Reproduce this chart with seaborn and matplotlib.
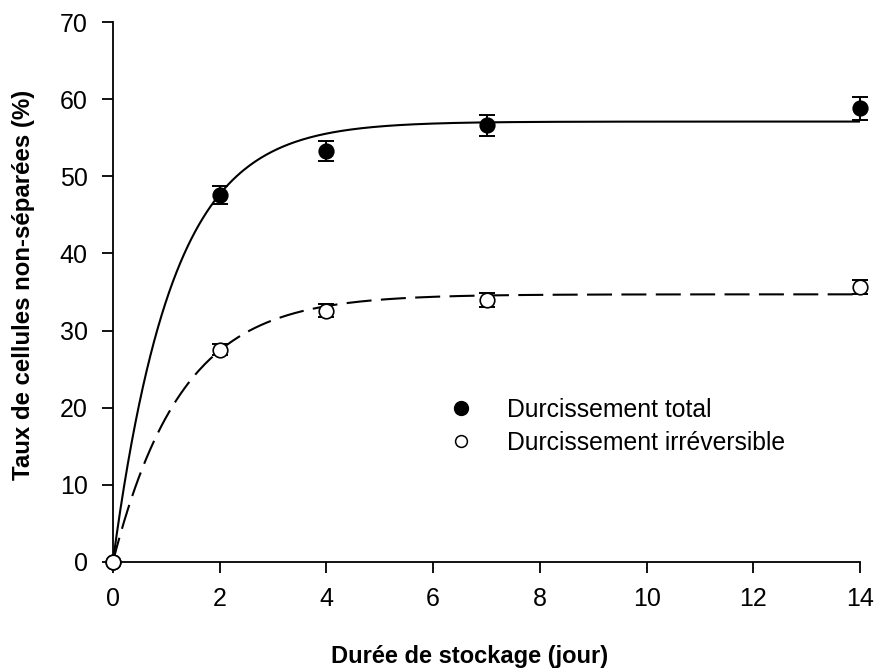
import numpy as np
import pandas as pd
import matplotlib
matplotlib.use("Agg")
import matplotlib.pyplot as plt
import seaborn as sns
from matplotlib.lines import Line2D

sns.set_theme(style="ticks")
plt.rcParams['font.family'] = ['Liberation Sans', 'DejaVu Sans']
plt.rcParams['text.color'] = 'black'
plt.rcParams['axes.labelcolor'] = 'black'

days = [0, 2, 4, 7, 14]
total = [0, 47.6, 53.3, 56.6, 58.8]
total_err = [0, 1.2, 1.3, 1.4, 1.5]
irrev = [0, 27.5, 32.6, 34.0, 35.6]
irrev_err = [0, 0.7, 0.8, 0.9, 0.9]

# fitted model parameters: y = A * (1 - exp(-k t))
fit_total_A, fit_total_k = 57.1, 0.90
fit_irrev_A, fit_irrev_k = 34.7, 0.78

labels = ["Durcissement total", "Durcissement irréversible"]

fig = plt.figure(figsize=(8.75, 6.69), dpi=100)
ax = fig.add_axes([0.129, 0.160, 0.854, 0.807])

t = np.linspace(0, 14, 400)
curves = pd.DataFrame({
    "t": np.concatenate([t, t]),
    "y": np.concatenate([fit_total_A * (1 - np.exp(-fit_total_k * t)),
                         fit_irrev_A * (1 - np.exp(-fit_irrev_k * t))]),
    "serie": [labels[0]] * len(t) + [labels[1]] * len(t),
})
sns.lineplot(data=curves, x="t", y="y", style="serie",
             dashes={labels[0]: "", labels[1]: (12, 4.5)},
             color="black", linewidth=1.5, legend=False, ax=ax)

ax.errorbar(days, total, yerr=total_err, fmt="none", ecolor="black",
            elinewidth=1.4, capsize=6, capthick=1.4, clip_on=False, zorder=3)
ax.errorbar(days, irrev, yerr=irrev_err, fmt="none", ecolor="black",
            elinewidth=1.4, capsize=6, capthick=1.4, clip_on=False, zorder=3)

pts = pd.DataFrame({"d": days + days, "v": total + irrev,
                    "serie": [labels[0]] * 5 + [labels[1]] * 5})
sns.scatterplot(data=pts[pts.serie == labels[0]], x="d", y="v", s=110,
                color="black", edgecolor="black", linewidth=1.2,
                legend=False, ax=ax, zorder=4, clip_on=False)
sns.scatterplot(data=pts[pts.serie == labels[1]], x="d", y="v", s=110,
                color="white", edgecolor="black", linewidth=1.2,
                legend=False, ax=ax, zorder=4, clip_on=False)

ax.set_xlim(0, 14)
ax.set_ylim(0, 70)
ax.set_xticks([0, 2, 4, 6, 8, 10, 12, 14])
ax.set_yticks([0, 10, 20, 30, 40, 50, 60, 70])
ax.tick_params(direction="out", length=8, width=1.3, labelsize=18,
               colors="black", labelcolor="black", pad=10)
for s in ["top", "right"]:
    ax.spines[s].set_visible(False)
for s in ["left", "bottom"]:
    ax.spines[s].set_linewidth(1.3)
    ax.spines[s].set_color("black")

ax.set_xlabel("Durée de stockage (jour)", fontsize=17, fontweight="bold", va="center")
ax.set_ylabel("Taux de cellules non-séparées (%)", fontsize=17.3, fontweight="bold", va="center")
ax.xaxis.set_label_coords(0.477, -0.176)
ax.yaxis.set_label_coords(-0.120, 0.513)

handles = [
    Line2D([], [], linestyle="none", marker="o", markersize=10,
           markerfacecolor="black", markeredgecolor="black"),
    Line2D([], [], linestyle="none", marker="o", markersize=8.5,
           markerfacecolor="white", markeredgecolor="black", markeredgewidth=1.1),
]
ax.legend(handles, labels, loc="center left", bbox_to_anchor=(0.450, 0.251),
          frameon=False, fontsize=17.8, handlelength=1, handletextpad=1.36,
          labelspacing=0.37, borderpad=0, borderaxespad=0)

fig.savefig("out.png", dpi=100)
